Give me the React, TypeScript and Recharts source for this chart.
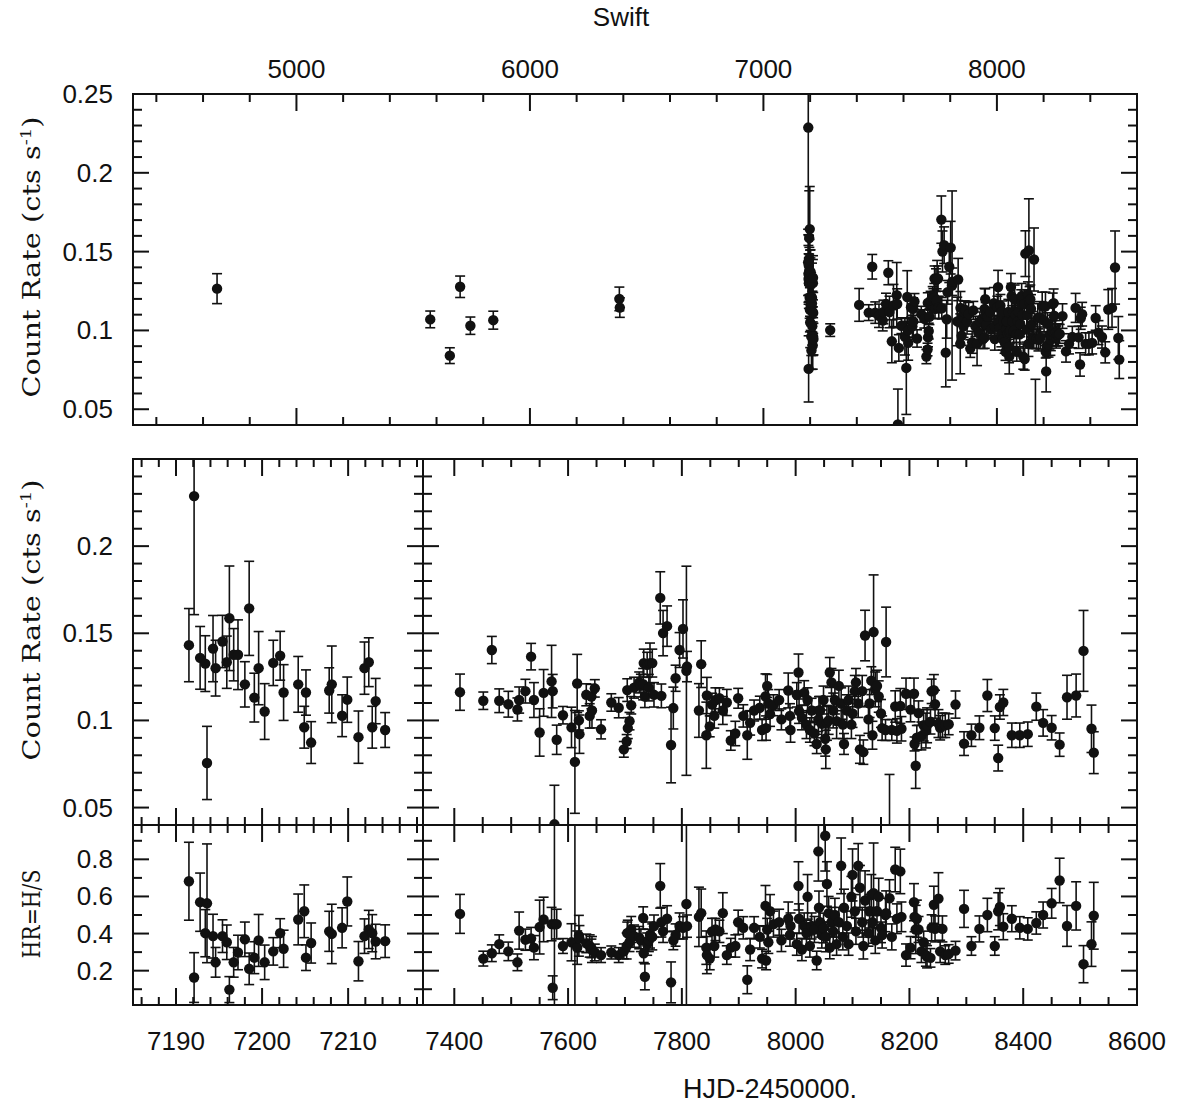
import React from 'react';
import { ScatterChart, Scatter, XAxis, YAxis, ErrorBar, ReferenceArea } from 'recharts';

const WIDTH = 1178;
const HEIGHT = 1105;

// Swift/XRT pointings before the 2015 campaign: [HJD-2450000, rate (cts/s), error]
const earlyPointings: number[][] = [
  [4660, 0.1265, 0.0095],
  [5573, 0.107, 0.0053],
  [5657, 0.084, 0.005],
  [5701, 0.1277, 0.0068],
  [5745, 0.103, 0.0055],
  [5843, 0.1065, 0.0057],
  [6383, 0.12, 0.0075],
  [6385, 0.1145, 0.0062],
  [7286, 0.1002, 0.004],
];

// 2015 campaign: [HJD-2450000, rate, error, HR, HR error]
const campaign2015: number[][] = [
  [7191.5, 0.1432, 0.021, 0.682, 0.21],
  [7192.1, 0.2287, 0.068, 0.163, 0.134],
  [7192.8, 0.1359, 0.018, 0.569, 0.157],
  [7193.4, 0.1326, 0.016, 0.402, 0.127],
  [7193.6, 0.0756, 0.021, 0.563, 0.32],
  [7194.3, 0.1412, 0.019, 0.386, 0.118],
  [7194.6, 0.13, 0.016, 0.245, 0.08],
  [7195.4, 0.1453, 0.015, 0.386, 0.088],
  [7195.9, 0.1334, 0.015, 0.353, 0.093],
  [7196.2, 0.1586, 0.03, 0.098, 0.07],
  [7196.7, 0.1377, 0.015, 0.245, 0.08],
  [7197.2, 0.1377, 0.02, 0.298, 0.093],
  [7198.0, 0.1207, 0.013, 0.369, 0.093],
  [7198.5, 0.1643, 0.027, 0.21, 0.085],
  [7199.1, 0.1131, 0.014, 0.27, 0.086],
  [7199.6, 0.13, 0.021, 0.363, 0.14],
  [7200.3, 0.1051, 0.016, 0.245, 0.093],
  [7201.3, 0.133, 0.013, 0.304, 0.074],
  [7202.1, 0.1371, 0.014, 0.402, 0.078],
  [7202.5, 0.116, 0.016, 0.318, 0.1],
  [7204.2, 0.1207, 0.016, 0.476, 0.137],
  [7204.9, 0.0961, 0.012, 0.52, 0.142],
  [7205.1, 0.116, 0.013, 0.27, 0.069],
  [7205.7, 0.0873, 0.012, 0.349, 0.108],
  [7207.8, 0.1172, 0.013, 0.412, 0.108],
  [7208.1, 0.1207, 0.022, 0.398, 0.16],
  [7209.3, 0.1027, 0.012, 0.431, 0.108],
  [7209.9, 0.1119, 0.013, 0.573, 0.132],
  [7211.2, 0.0904, 0.015, 0.251, 0.106],
  [7211.9, 0.13, 0.015, 0.386, 0.093],
  [7212.4, 0.1334, 0.014, 0.422, 0.103],
  [7212.8, 0.0961, 0.012, 0.402, 0.1],
  [7213.2, 0.1111, 0.013, 0.357, 0.093],
  [7214.3, 0.0945, 0.01, 0.359, 0.088],
];

// 2016-2019 monitoring: [HJD-2450000, rate, error, HR, HR error]
const monitoring: number[][] = [
  [7410, 0.1162, 0.0104, 0.506, 0.105],
  [7451, 0.1113, 0.005, 0.265, 0.04],
  [7466, 0.1404, 0.0078, 0.294, 0.045],
  [7479, 0.1113, 0.0068, 0.343, 0.05],
  [7495, 0.1093, 0.0074, 0.304, 0.05],
  [7511, 0.1063, 0.0066, 0.245, 0.045],
  [7514, 0.1117, 0.0075, 0.416, 0.1],
  [7525, 0.1168, 0.0068, 0.367, 0.057],
  [7535, 0.1366, 0.0076, 0.373, 0.06],
  [7540, 0.1117, 0.01, 0.324, 0.065],
  [7550, 0.0931, 0.0136, 0.435, 0.145],
  [7557, 0.1158, 0.0134, 0.476, 0.12],
  [7571, 0.1224, 0.0207, 0.451, 0.09],
  [7573, 0.1168, 0.0096, 0.108, 0.064],
  [7576, 0.0404, 0.0224, 0.45, 0.6],
  [7580, 0.0889, 0.0084, 0.451, 0.08],
  [7591, 0.103, 0.005, 0.333, 0.04],
  [7606, 0.096, 0.0116, 0.353, 0.1],
  [7612, 0.0762, 0.0295, 0.35, 0.7],
  [7616, 0.1212, 0.0167, 0.324, 0.09],
  [7619, 0.1, 0.0055, 0.388, 0.11],
  [7620, 0.0921, 0.011, 0.373, 0.07],
  [7632, 0.1147, 0.0063, 0.347, 0.05],
  [7638, 0.1026, 0.007, 0.333, 0.06],
  [7641, 0.1137, 0.007, 0.32, 0.05],
  [7642, 0.1057, 0.01, 0.314, 0.07],
  [7647, 0.1184, 0.005, 0.298, 0.045],
  [7658, 0.0949, 0.0055, 0.284, 0.04],
  [7676, 0.1103, 0.005, 0.298, 0.035],
  [7689, 0.1073, 0.0058, 0.284, 0.04],
  [7698, 0.0834, 0.0045, 0.304, 0.04],
  [7703, 0.0879, 0.004, 0.333, 0.07],
  [7704, 0.1174, 0.0065, 0.402, 0.06],
  [7705, 0.0956, 0.006, 0.402, 0.07],
  [7708, 0.0996, 0.005, 0.353, 0.05],
  [7711, 0.1087, 0.005, 0.422, 0.07],
  [7716, 0.1188, 0.006, 0.386, 0.06],
  [7725, 0.1218, 0.006, 0.378, 0.06],
  [7728, 0.12, 0.0065, 0.363, 0.06],
  [7732, 0.1208, 0.009, 0.484, 0.06],
  [7733, 0.1329, 0.008, 0.294, 0.05],
  [7735, 0.1137, 0.0063, 0.167, 0.07],
  [7739, 0.1319, 0.0072, 0.343, 0.06],
  [7742, 0.1188, 0.0076, 0.363, 0.06],
  [7744, 0.1329, 0.0115, 0.392, 0.07],
  [7748, 0.1329, 0.008, 0.382, 0.07],
  [7751, 0.1147, 0.007, 0.44, 0.06],
  [7762, 0.1703, 0.015, 0.657, 0.12],
  [7764, 0.1141, 0.0068, 0.461, 0.08],
  [7767, 0.1501, 0.013, 0.412, 0.06],
  [7774, 0.1541, 0.0116, 0.48, 0.07],
  [7781, 0.0859, 0.0217, 0.137, 0.11],
  [7785, 0.1071, 0.012, 0.363, 0.05],
  [7789, 0.1242, 0.0075, 0.392, 0.06],
  [7796, 0.1404, 0.01, 0.441, 0.07],
  [7802, 0.1525, 0.0167, 0.431, 0.06],
  [7808, 0.1285, 0.06, 0.559, 0.75],
  [7809, 0.1309, 0.0087, 0.44, 0.06],
  [7830, 0.1057, 0.0154, 0.49, 0.16],
  [7834, 0.1323, 0.0134, 0.51, 0.13],
  [7843, 0.0915, 0.019, 0.324, 0.09],
  [7844, 0.1143, 0.0104, 0.284, 0.1],
  [7849, 0.0966, 0.006, 0.265, 0.06],
  [7853, 0.1091, 0.0065, 0.412, 0.07],
  [7857, 0.1026, 0.007, 0.333, 0.06],
  [7859, 0.1117, 0.007, 0.422, 0.06],
  [7866, 0.1127, 0.006, 0.412, 0.06],
  [7872, 0.1057, 0.008, 0.51, 0.11],
  [7879, 0.1103, 0.0075, 0.284, 0.05],
  [7886, 0.0885, 0.0056, 0.324, 0.05],
  [7894, 0.0925, 0.007, 0.333, 0.06],
  [7899, 0.1127, 0.0057, 0.461, 0.065],
  [7908, 0.1026, 0.0064, 0.431, 0.06],
  [7915, 0.0915, 0.0138, 0.151, 0.075],
  [7920, 0.0986, 0.007, 0.314, 0.06],
  [7927, 0.1057, 0.006, 0.431, 0.06],
  [7937, 0.1073, 0.0066, 0.382, 0.06],
  [7941, 0.0945, 0.006, 0.265, 0.05],
  [7947, 0.1137, 0.013, 0.549, 0.11],
  [7948, 0.0956, 0.007, 0.255, 0.05],
  [7950, 0.1198, 0.0066, 0.422, 0.06],
  [7952, 0.1097, 0.008, 0.353, 0.06],
  [7955, 0.1036, 0.007, 0.52, 0.09],
  [7961, 0.1087, 0.006, 0.451, 0.07],
  [7971, 0.1117, 0.006, 0.461, 0.07],
  [7975, 0.1006, 0.006, 0.363, 0.06],
  [7987, 0.1172, 0.01, 0.48, 0.09],
  [7990, 0.1026, 0.007, 0.392, 0.06],
  [7991, 0.0945, 0.007, 0.441, 0.07],
  [8002, 0.1147, 0.007, 0.343, 0.06],
  [8005, 0.1275, 0.0106, 0.657, 0.13],
  [8006, 0.1053, 0.007, 0.48, 0.08],
  [8011, 0.1016, 0.007, 0.314, 0.06],
  [8015, 0.1158, 0.007, 0.441, 0.07],
  [8019, 0.0976, 0.008, 0.402, 0.07],
  [8021, 0.1117, 0.007, 0.598, 0.12],
  [8025, 0.0945, 0.007, 0.333, 0.06],
  [8028, 0.1057, 0.007, 0.441, 0.07],
  [8033, 0.0925, 0.007, 0.422, 0.07],
  [8037, 0.0865, 0.0055, 0.255, 0.05],
  [8040, 0.1006, 0.007, 0.843, 0.16],
  [8041, 0.1057, 0.008, 0.539, 0.09],
  [8043, 0.1057, 0.008, 0.461, 0.08],
  [8046, 0.098, 0.008, 0.392, 0.07],
  [8049, 0.1117, 0.008, 0.43, 0.08],
  [8052, 0.0895, 0.01, 0.927, 0.19],
  [8053, 0.0834, 0.011, 0.382, 0.08],
  [8055, 0.0986, 0.01, 0.667, 0.12],
  [8058, 0.1, 0.008, 0.51, 0.09],
  [8060, 0.1275, 0.0086, 0.324, 0.06],
  [8063, 0.1218, 0.008, 0.461, 0.08],
  [8066, 0.1057, 0.01, 0.412, 0.07],
  [8069, 0.1117, 0.008, 0.5, 0.09],
  [8072, 0.0996, 0.01, 0.343, 0.06],
  [8076, 0.1198, 0.009, 0.461, 0.08],
  [8080, 0.1097, 0.009, 0.765, 0.15],
  [8083, 0.0976, 0.008, 0.382, 0.07],
  [8085, 0.0865, 0.006, 0.539, 0.1],
  [8090, 0.1057, 0.009, 0.441, 0.08],
  [8093, 0.1117, 0.008, 0.343, 0.06],
  [8098, 0.0976, 0.008, 0.598, 0.11],
  [8100, 0.104, 0.008, 0.716, 0.14],
  [8104, 0.1168, 0.009, 0.52, 0.09],
  [8106, 0.1218, 0.008, 0.412, 0.07],
  [8110, 0.1097, 0.008, 0.765, 0.12],
  [8113, 0.0834, 0.008, 0.647, 0.12],
  [8117, 0.1168, 0.009, 0.461, 0.08],
  [8119, 0.0818, 0.007, 0.333, 0.07],
  [8122, 0.1487, 0.0145, 0.578, 0.16],
  [8128, 0.1006, 0.008, 0.402, 0.07],
  [8130, 0.1097, 0.008, 0.52, 0.09],
  [8133, 0.1228, 0.008, 0.608, 0.11],
  [8135, 0.0915, 0.008, 0.461, 0.08],
  [8137, 0.1507, 0.0328, 0.618, 0.27],
  [8140, 0.1178, 0.01, 0.363, 0.07],
  [8143, 0.1198, 0.009, 0.52, 0.09],
  [8146, 0.1137, 0.009, 0.598, 0.1],
  [8150, 0.104, 0.008, 0.431, 0.08],
  [8152, 0.0956, 0.007, 0.392, 0.07],
  [8158, 0.0945, 0.006, 0.5, 0.09],
  [8159, 0.145, 0.02, 0.51, 0.12],
  [8165, 0.025, 0.044, 0.59, 0.1],
  [8169, 0.0945, 0.006, 0.382, 0.07],
  [8175, 0.108, 0.009, 0.745, 0.12],
  [8178, 0.094, 0.007, 0.48, 0.08],
  [8184, 0.1083, 0.01, 0.735, 0.12],
  [8186, 0.0952, 0.007, 0.49, 0.08],
  [8194, 0.1153, 0.009, 0.284, 0.06],
  [8202, 0.1062, 0.007, 0.324, 0.06],
  [8208, 0.1153, 0.009, 0.569, 0.1],
  [8209, 0.0865, 0.004, 0.49, 0.08],
  [8211, 0.074, 0.013, 0.422, 0.13],
  [8213, 0.0901, 0.007, 0.48, 0.1],
  [8216, 0.1042, 0.007, 0.422, 0.07],
  [8221, 0.0911, 0.008, 0.304, 0.06],
  [8225, 0.0972, 0.009, 0.353, 0.06],
  [8229, 0.0942, 0.01, 0.284, 0.06],
  [8231, 0.0972, 0.01, 0.275, 0.06],
  [8237, 0.0992, 0.007, 0.269, 0.05],
  [8239, 0.1167, 0.007, 0.431, 0.07],
  [8243, 0.1173, 0.009, 0.555, 0.1],
  [8245, 0.1093, 0.008, 0.425, 0.07],
  [8251, 0.0982, 0.008, 0.588, 0.14],
  [8254, 0.0958, 0.007, 0.304, 0.06],
  [8258, 0.0972, 0.007, 0.425, 0.07],
  [8263, 0.0972, 0.007, 0.284, 0.05],
  [8269, 0.0978, 0.006, 0.29, 0.05],
  [8281, 0.1091, 0.0078, 0.308, 0.05],
  [8296, 0.0867, 0.0068, 0.533, 0.1],
  [8309, 0.0915, 0.0064, 0.333, 0.05],
  [8323, 0.0958, 0.0068, 0.425, 0.07],
  [8337, 0.1143, 0.0092, 0.5, 0.09],
  [8350, 0.0956, 0.007, 0.333, 0.05],
  [8356, 0.0784, 0.0074, 0.52, 0.1],
  [8359, 0.1077, 0.007, 0.543, 0.1],
  [8365, 0.1103, 0.0075, 0.437, 0.07],
  [8380, 0.0915, 0.007, 0.48, 0.07],
  [8394, 0.0915, 0.007, 0.431, 0.06],
  [8408, 0.0921, 0.007, 0.425, 0.06],
  [8423, 0.1079, 0.0078, 0.457, 0.06],
  [8435, 0.0986, 0.0076, 0.5, 0.07],
  [8450, 0.0958, 0.007, 0.563, 0.08],
  [8464, 0.0861, 0.0067, 0.686, 0.12],
  [8477, 0.1133, 0.0126, 0.441, 0.11],
  [8493, 0.1143, 0.0123, 0.549, 0.13],
  [8506, 0.1399, 0.0232, 0.235, 0.1],
  [8520, 0.0952, 0.0136, 0.343, 0.12],
  [8524, 0.0815, 0.012, 0.496, 0.18],
];

// axis ranges and labelled ticks
const rateDomain: [number, number] = [0.04, 0.25];
const hrDomain: [number, number] = [0.015, 0.985];
const allDomain: [number, number] = [4300, 8600];
const campaignDomain: [number, number] = [7185, 7218.7];
const monitorDomain: [number, number] = [7345, 8600];

const rateMajor = [0.05, 0.1, 0.15, 0.2, 0.25];
const rateLabels = ['0.05', '0.1', '0.15', '0.2', '0.25'];
const hrMajor = [0.2, 0.4, 0.6, 0.8];
const hrLabels = ['0.2', '0.4', '0.6', '0.8'];
const allMajor = [5000, 6000, 7000, 8000];
const allLabels = ['5000', '6000', '7000', '8000'];
const campaignMajor = [7190, 7200, 7210];
const campaignLabels = ['7190', '7200', '7210'];
const monitorMajor = [7400, 7600, 7800, 8000, 8200, 8400, 8600];
const monitorLabels = ['7400', '7600', '7800', '8000', '8200', '8400', '8600'];

const steps = (from: number, to: number, step: number) => {
  const out: number[] = [];
  for (let v = from; v <= to + step * 1e-6; v += step) out.push(+v.toFixed(4));
  return out;
};

type Row = { t: number; rate: number; rateErr: number; hr: number; hrErr: number };
const toRow = (r: number[]): Row => ({ t: r[0], rate: r[1], rateErr: r[2], hr: r[3] ?? NaN, hrErr: r[4] ?? 0 });
const earlyRows = earlyPointings.map(toRow);
const campaignRows = campaign2015.map(toRow);
const monitorRows = monitoring.map(toRow);
const allRows = [...earlyRows, ...campaignRows, ...monitorRows];

const LABEL_FONT = '"Liberation Sans", Arial, Helvetica, sans-serif';
const TITLE_FONT = '"DejaVu Serif", "Liberation Serif", serif';
const INK = '#111';

type Rect = { l: number; t: number; r: number; b: number };
type AxisSpec = {
  domain: [number, number];
  ticks: number[];
  major: number[];
  labels?: string[];
};

const findMajor = (major: number[], v: number) => major.findIndex((m) => Math.abs(m - v) < 1e-6);

function Panel({
  rect,
  rows,
  yKey,
  errKey,
  x,
  y,
  xLabelsOnTop = false,
}: {
  rect: Rect;
  rows: Row[];
  yKey: 'rate' | 'hr';
  errKey: 'rateErr' | 'hrErr';
  x: AxisSpec;
  y: AxisSpec;
  xLabelsOnTop?: boolean;
}) {
  // axes get 1px of room so that recharts still draws them
  const margin = { left: rect.l - 1, top: rect.t, right: WIDTH - rect.r, bottom: HEIGHT - rect.b - 1 };
  // error bars and points are cut at the frame
  const clip = `inset(${rect.t - 1}px ${WIDTH - rect.r - 1}px ${HEIGHT - rect.b - 1}px ${rect.l - 1}px)`;

  // ticks point inwards on all four sides
  const xTick = (props: any) => {
    const cx = props.x as number;
    const k = findMajor(x.major, props.payload.value);
    const len = k >= 0 ? 17 : 8;
    const inside = cx - rect.l > 3 && rect.r - cx > 3;
    const label = k >= 0 && x.labels ? x.labels[k] : null;
    return (
      <g>
        {inside && <line x1={cx} x2={cx} y1={rect.b} y2={rect.b - len} stroke={INK} strokeWidth={2} />}
        {inside && <line x1={cx} x2={cx} y1={rect.t} y2={rect.t + len} stroke={INK} strokeWidth={2} />}
        {label && (
          <text
            x={cx}
            y={xLabelsOnTop ? rect.t - 16 : rect.b + 45}
            textAnchor="middle"
            fontFamily={LABEL_FONT}
            fontSize={26}
            fill={INK}
          >
            {label}
          </text>
        )}
      </g>
    );
  };

  const yTick = (props: any) => {
    const cy = props.y as number;
    const k = findMajor(y.major, props.payload.value);
    const len = k >= 0 ? 16 : 9;
    const inside = cy - rect.t > 3 && rect.b - cy > 3;
    const label = k >= 0 && y.labels ? y.labels[k] : null;
    return (
      <g>
        {inside && <line x1={rect.l} x2={rect.l + len} y1={cy} y2={cy} stroke={INK} strokeWidth={2} />}
        {inside && <line x1={rect.r} x2={rect.r - len} y1={cy} y2={cy} stroke={INK} strokeWidth={2} />}
        {label && (
          <text x={rect.l - 20} y={cy + 9} textAnchor="end" fontFamily={LABEL_FONT} fontSize={26} fill={INK}>
            {label}
          </text>
        )}
      </g>
    );
  };

  const axisProps = { allowDataOverflow: true, interval: 0 as const, tickSize: 0, tickMargin: 0, tickLine: false, axisLine: false };

  return (
    <>
      <div style={{ position: 'absolute', left: 0, top: 0, clipPath: clip }}>
        <ScatterChart width={WIDTH} height={HEIGHT} margin={margin}>
          <XAxis type="number" dataKey="t" domain={x.domain} ticks={x.ticks} height={1} tick={false} {...axisProps} />
          <YAxis type="number" dataKey={yKey} domain={y.domain} ticks={y.ticks} width={1} tick={false} {...axisProps} />
          <Scatter
            data={rows}
            isAnimationActive={false}
            shape={(p: any) => <circle cx={p.cx} cy={p.cy} r={5.2} fill={INK} />}
          >
            <ErrorBar dataKey={errKey} direction="y" width={5} stroke={INK} strokeWidth={1.6} isAnimationActive={false} />
          </Scatter>
        </ScatterChart>
      </div>
      <div style={{ position: 'absolute', left: 0, top: 0 }}>
        <ScatterChart width={WIDTH} height={HEIGHT} margin={margin}>
          <XAxis type="number" dataKey="t" domain={x.domain} ticks={x.ticks} height={1} tick={xTick} {...axisProps} />
          <YAxis type="number" dataKey={yKey} domain={y.domain} ticks={y.ticks} width={1} tick={yTick} {...axisProps} />
          <Scatter data={[]} isAnimationActive={false} />
          <ReferenceArea
            x1={x.domain[0]}
            x2={x.domain[1]}
            y1={y.domain[0]}
            y2={y.domain[1]}
            fill="none"
            fillOpacity={0}
            stroke={INK}
            strokeWidth={2}
          />
        </ScatterChart>
      </div>
    </>
  );
}

const topRect: Rect = { l: 133, t: 94, r: 1137, b: 425 };
const midLeft: Rect = { l: 133, t: 459, r: 423, b: 825 };
const midRight: Rect = { l: 423, t: 459, r: 1137, b: 825 };
const hrLeft: Rect = { l: 133, t: 825, r: 423, b: 1005 };
const hrRight: Rect = { l: 423, t: 825, r: 1137, b: 1005 };

const allX: AxisSpec = { domain: allDomain, ticks: steps(4400, 8400, 200), major: allMajor, labels: allLabels };
const campaignX: AxisSpec = { domain: campaignDomain, ticks: steps(7186, 7218, 2), major: campaignMajor, labels: campaignLabels };
const campaignXNoLabels: AxisSpec = { ...campaignX, labels: undefined };
const monitorX: AxisSpec = { domain: monitorDomain, ticks: steps(7350, 8600, 50), major: monitorMajor, labels: monitorLabels };
const monitorXNoLabels: AxisSpec = { ...monitorX, labels: undefined };

const topRateY: AxisSpec = { domain: rateDomain, ticks: steps(0.05, 0.25, 0.01), major: rateMajor, labels: rateLabels };
const midRateY: AxisSpec = {
  domain: rateDomain,
  ticks: steps(0.05, 0.24, 0.01),
  major: rateMajor.slice(0, 4),
  labels: rateLabels.slice(0, 4),
};
const midRateYNoLabels: AxisSpec = { ...midRateY, labels: undefined };
const hrY: AxisSpec = { domain: hrDomain, ticks: steps(0.1, 0.9, 0.1), major: hrMajor, labels: hrLabels };
const hrYNoLabels: AxisSpec = { ...hrY, labels: undefined };

export default function App() {
  return (
    <div style={{ position: 'absolute', left: 0, top: 0, width: WIDTH, height: HEIGHT, background: '#fff' }}>
      <Panel rect={topRect} rows={allRows} yKey="rate" errKey="rateErr" x={allX} y={topRateY} xLabelsOnTop />
      <Panel rect={midLeft} rows={campaignRows} yKey="rate" errKey="rateErr" x={campaignXNoLabels} y={midRateY} />
      <Panel rect={midRight} rows={monitorRows} yKey="rate" errKey="rateErr" x={monitorXNoLabels} y={midRateYNoLabels} />
      <Panel rect={hrLeft} rows={campaignRows} yKey="hr" errKey="hrErr" x={campaignX} y={hrY} />
      <Panel rect={hrRight} rows={monitorRows} yKey="hr" errKey="hrErr" x={monitorX} y={hrYNoLabels} />

      <svg width={WIDTH} height={HEIGHT} style={{ position: 'absolute', left: 0, top: 0, pointerEvents: 'none' }}>
        <text x={621} y={26} textAnchor="middle" fontFamily={LABEL_FONT} fontSize={26} fill={INK}>
          Swift
        </text>
        <text x={770} y={1098} textAnchor="middle" fontFamily={LABEL_FONT} fontSize={27} fill={INK}>
          HJD-2450000.
        </text>
        <text
          transform="translate(40,257) rotate(-90) scale(1.2,1)"
          textAnchor="middle"
          fontFamily={TITLE_FONT}
          fontSize={24}
          fill={INK}
        >
          Count Rate (cts s<tspan dy={-9} fontSize={15}>-1</tspan>
          <tspan dy={9}>)</tspan>
        </text>
        <text
          transform="translate(40,620) rotate(-90) scale(1.2,1)"
          textAnchor="middle"
          fontFamily={TITLE_FONT}
          fontSize={24}
          fill={INK}
        >
          Count Rate (cts s<tspan dy={-9} fontSize={15}>-1</tspan>
          <tspan dy={9}>)</tspan>
        </text>
        <text
          transform="translate(40,914) rotate(-90) scale(0.85,1)"
          textAnchor="middle"
          fontFamily={TITLE_FONT}
          fontSize={24}
          fill={INK}
        >
          HR=H/S
        </text>
      </svg>
    </div>
  );
}
